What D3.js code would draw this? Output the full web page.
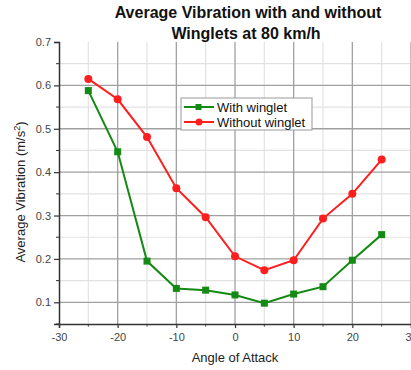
<!DOCTYPE html>
<html>
<head>
<meta charset="utf-8">
<script src="https://cdn.jsdelivr.net/npm/d3@7"></script>
<style>
  body { margin: 0; background: #fff; }
  svg { display: block; font-family: "Liberation Sans", Arial, sans-serif; }
</style>
</head>
<body>
<svg id="chart" width="411" height="370"></svg>
<script>
// chart values
const angles = [-25, -20, -15, -10, -5, 0, 5, 10, 15, 20, 25];
const withWinglet = [0.588, 0.447, 0.195, 0.132, 0.128, 0.117, 0.098, 0.119, 0.136, 0.197, 0.256];
const withoutWinglet = [0.615, 0.568, 0.481, 0.363, 0.296, 0.206, 0.174, 0.197, 0.293, 0.350, 0.429];
const xTicks = [-30, -20, -10, 0, 10, 20, 30];
const yTicks = [0.1, 0.2, 0.3, 0.4, 0.5, 0.6, 0.7];
const seriesNames = ["With winglet", "Without winglet"];

const svg = d3.select('#chart');
const pLeft = 59, pRight = 411, pTop = 42, pBottom = 324;

const x = d3.scaleLinear().domain([-30, 30]).range([pLeft, pRight]);
const y = d3.scaleLinear().domain([0.05, 0.7]).range([pBottom, pTop]);

// grid - minor first, then major
const xMinor = d3.range(-25, 30, 10);
const yMinor = d3.range(0.05, 0.7, 0.1).map(v => +v.toFixed(2)).filter(v => v > 0.05);

const grid = svg.append('g');
grid.selectAll('.vmin').data(xMinor).join('line')
  .attr('x1', d => x(d)).attr('x2', d => x(d)).attr('y1', pTop).attr('y2', pBottom)
  .attr('stroke', '#e2e2e2').attr('stroke-width', 1.2);
grid.selectAll('.hmin').data(yMinor).join('line')
  .attr('x1', pLeft).attr('x2', pRight - 1).attr('y1', d => y(d)).attr('y2', d => y(d))
  .attr('stroke', '#e2e2e2').attr('stroke-width', 1.2);
grid.selectAll('.vmaj').data(xTicks.filter(d => d > -30)).join('line')
  .attr('x1', d => x(d)).attr('x2', d => x(d)).attr('y1', pTop).attr('y2', pBottom)
  .attr('stroke', '#a0a0a0').attr('stroke-width', 1.3);
grid.selectAll('.hmaj').data(yTicks.filter(d => d < 0.7)).join('line')
  .attr('x1', pLeft).attr('x2', pRight - 1).attr('y1', d => y(d)).attr('y2', d => y(d))
  .attr('stroke', '#a0a0a0').attr('stroke-width', 1.3);

// axes (plain hyphen for negatives, like the original)
const xAxis = svg.append('g').attr('transform', `translate(0,${pBottom})`)
  .call(d3.axisBottom(x).tickValues(xTicks).tickSize(4).tickPadding(5).tickFormat(d => String(d)));
xAxis.append('g').selectAll('line').data(xMinor).join('line')
  .attr('x1', d => x(d)).attr('x2', d => x(d)).attr('y1', 0).attr('y2', 2.5).attr('stroke', '#333');

const yAxis = svg.append('g').attr('transform', `translate(${pLeft},0)`)
  .call(d3.axisLeft(y).tickValues(yTicks).tickSize(5).tickPadding(3).tickFormat(d3.format('.1f')));
yAxis.append('g').selectAll('line').data(d3.range(0.05, 0.7, 0.1)).join('line')
  .attr('x1', 0).attr('x2', -3).attr('y1', d => y(d)).attr('y2', d => y(d)).attr('stroke', '#333');

[xAxis, yAxis].forEach(a => {
  a.select('.domain').attr('stroke', '#333').attr('stroke-width', 1.5);
  a.selectAll('.tick line').attr('stroke', '#333').attr('stroke-width', 1.2);
  a.selectAll('.tick text').attr('fill', '#444').style('font-size', '11px')
    .style('font-family', '"Liberation Sans", Arial, sans-serif');
});

// series
const line = d3.line().x(d => x(d[0])).y(d => y(d[1]));
const green = '#148a14', red = '#ff1e1e';
const gData = angles.map((a, i) => [a, withWinglet[i]]);
const rData = angles.map((a, i) => [a, withoutWinglet[i]]);

svg.append('path').datum(gData).attr('d', line).attr('fill', 'none')
  .attr('stroke', green).attr('stroke-width', 2);
svg.append('path').datum(rData).attr('d', line).attr('fill', 'none')
  .attr('stroke', red).attr('stroke-width', 2);

svg.append('g').selectAll('rect').data(gData).join('rect')
  .attr('x', d => x(d[0]) - 3.5).attr('y', d => y(d[1]) - 3.5)
  .attr('width', 7).attr('height', 7).attr('fill', green);
svg.append('g').selectAll('circle').data(rData).join('circle')
  .attr('cx', d => x(d[0])).attr('cy', d => y(d[1])).attr('r', 4).attr('fill', red);

// legend
const lg = svg.append('g').attr('transform', 'translate(181,98)');
lg.append('rect').attr('width', 131).attr('height', 32)
  .attr('fill', '#fff').attr('stroke', '#999').attr('stroke-width', 1);
seriesNames.forEach((name, i) => {
  const cy = 9 + i * 15;
  const c = i === 0 ? green : red;
  lg.append('line').attr('x1', 3).attr('x2', 33).attr('y1', cy).attr('y2', cy)
    .attr('stroke', c).attr('stroke-width', 2);
  if (i === 0) lg.append('rect').attr('x', 14.5).attr('y', cy - 3).attr('width', 6).attr('height', 6).attr('fill', c);
  else lg.append('circle').attr('cx', 18).attr('cy', cy).attr('r', 3.5).attr('fill', c);
  lg.append('text').attr('x', 36).attr('y', cy + 4.5).text(name)
    .style('font-size', '13px').attr('fill', '#111');
});

// title
const title = svg.append('text').attr('text-anchor', 'middle')
  .style('font-size', '16px').style('font-weight', 'bold').attr('fill', '#111');
title.append('tspan').attr('x', 248).attr('y', 18).text('Average Vibration with and without');
title.append('tspan').attr('x', 246).attr('y', 39).text('Winglets at 80 km/h');

// axis titles
svg.append('text').attr('x', 235).attr('y', 362).attr('text-anchor', 'middle')
  .style('font-size', '13px').attr('fill', '#222').text('Angle of Attack');

const yl = svg.append('text').attr('transform', 'translate(25,192) rotate(-90)')
  .attr('text-anchor', 'middle').style('font-size', '13px').attr('fill', '#222');
yl.append('tspan').text('Average Vibration (m/s');
yl.append('tspan').attr('dy', -5).style('font-size', '9px').text('2');
yl.append('tspan').attr('dy', 5).text(')');
</script>
</body>
</html>
